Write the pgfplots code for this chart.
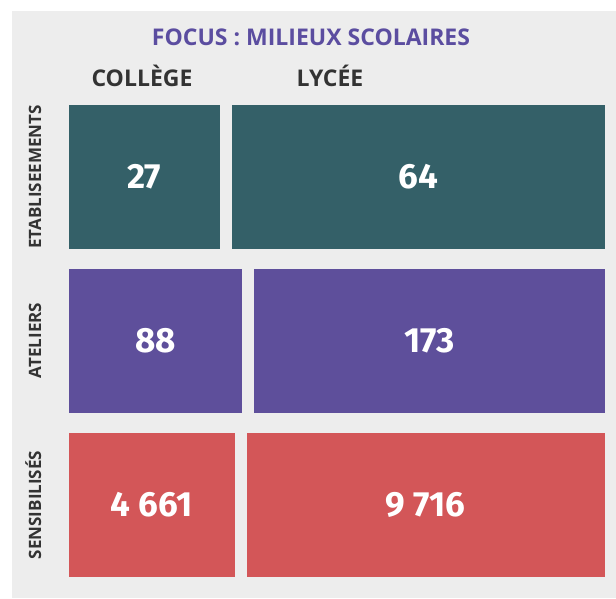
\documentclass[border=0pt]{standalone}
\usepackage{pgfplots}
\pgfplotsset{compat=1.18}
\usepackage{fontspec}
\setmainfont{Open Sans}
\newfontfamily\numfont{Fira Sans}
\definecolor{bg}{HTML}{EDEDED}
\definecolor{teal}{HTML}{346068}
\definecolor{purp}{HTML}{5E4F9B}
\definecolor{redc}{HTML}{D35658}
\definecolor{titlec}{HTML}{5B4DA0}
\definecolor{lab}{HTML}{333333}
\pgfplotsset{
  rowaxis/.style={
    xbar stacked, hide axis, scale only axis,
    width=548pt, height=164pt,
    xmin=0, xmax=100, ymin=-0.5, ymax=0.5,
    bar width=156.5pt, clip=false,
    point meta=explicit symbolic,
    nodes near coords={\pgfplotspointmeta},
    every node near coord/.append style={anchor=center, text=white,
      font=\numfont\bfseries\fontsize{35}{40}\selectfont},
  },
}
\begin{document}
\begin{tikzpicture}
\useasboundingbox (0pt,0pt) rectangle (616pt,598pt);
\fill[bg] (12pt,0pt) rectangle (616pt,587pt);
% row: SENSIBILISES
\begin{axis}[rowaxis, at={(63pt,11pt)}, anchor=south west]
\addplot[fill=redc, draw=bg, line width=12pt] coordinates {(32.42,0) [4~661]};
\addplot[fill=redc, draw=bg, line width=12pt] coordinates {(67.58,0) [9~716]};
\end{axis}
% row: ATELIERS
\begin{axis}[rowaxis, at={(63pt,175pt)}, anchor=south west]
\addplot[fill=purp, draw=bg, line width=12pt] coordinates {(33.72,0) [88]};
\addplot[fill=purp, draw=bg, line width=12pt] coordinates {(66.28,0) [173]};
\end{axis}
% row: ETABLISEEMENTS
\begin{axis}[rowaxis, at={(63pt,339pt)}, anchor=south west]
\addplot[fill=teal, draw=bg, line width=12pt] coordinates {(29.67,0) [27]};
\addplot[fill=teal, draw=bg, line width=12pt] coordinates {(70.33,0) [64]};
\end{axis}
\node[anchor=base, text=titlec, font=\bfseries\fontsize{23}{27}\selectfont] at (311pt,552pt) {FOCUS : MILIEUX SCOLAIRES};
\node[anchor=base, text=lab, font=\bfseries\fontsize{23}{27}\selectfont] at (142pt,511pt) {COLLÈGE};
\node[anchor=base, text=lab, font=\bfseries\fontsize{23}{27}\selectfont] at (330pt,511pt) {LYCÉE};
\node[rotate=90, anchor=base, text=lab, font=\bfseries\fontsize{17}{20}\selectfont] at (41pt,421pt) {ETABLISEEMENTS};
\node[rotate=90, anchor=base, text=lab, font=\bfseries\fontsize{17}{20}\selectfont] at (41pt,257.5pt) {ATELIERS};
\node[rotate=90, anchor=base, text=lab, font=\bfseries\fontsize{17}{20}\selectfont] at (41pt,93pt) {SENSIBILISÉS};
\end{tikzpicture}
\end{document}
